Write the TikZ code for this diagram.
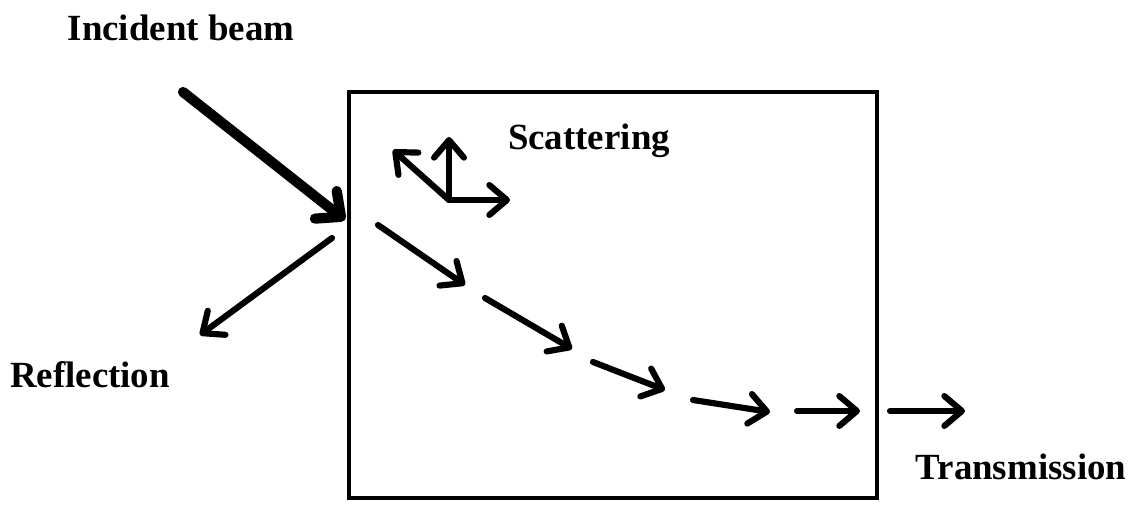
\documentclass[tikz,border=0pt]{standalone}
\usepackage{fontspec}
\setmainfont{Liberation Serif}
\usetikzlibrary{arrows.meta}
\begin{document}
\begin{tikzpicture}[x=0.02cm,y=-0.02cm,
  ray/.style={line width=3.5pt, line cap=round, -{Straight Barb[length=10pt,width=17pt,line cap=round,round]}},
  bigray/.style={line width=5.8pt, line cap=round, -{Straight Barb[length=11pt,width=20pt,line cap=round,round]}},
  lbl/.style={font=\fontsize{21}{25}\selectfont\bfseries, inner sep=0pt}]
\useasboundingbox (0,0) rectangle (1139,506);
\node[draw, line width=2.6pt, minimum width=10.56cm, minimum height=8.12cm, inner sep=0pt, outer sep=0pt] (box) at (613,295) {};
% coordinates
\coordinate (i0) at (183,92); \coordinate (i1) at (345,220);
\coordinate (r0) at (332,238); \coordinate (r1) at (200,335);
\coordinate (o) at (449,200); \coordinate (su) at (449,137);
\coordinate (sr) at (510,200); \coordinate (sd) at (393,150);
\coordinate (a0) at (378,225); \coordinate (a1) at (465,285);
\coordinate (b0) at (485,298); \coordinate (b1) at (572,349);
\coordinate (c0) at (593,362); \coordinate (c1) at (665,390);
\coordinate (d0) at (693,400); \coordinate (d1) at (770,412);
\coordinate (e0) at (797,411); \coordinate (e1) at (860,411);
\coordinate (f0) at (890,411); \coordinate (f1) at (965,411);
\draw[bigray] (i0) -- (i1);
\draw[ray] (r0) -- (r1);
\draw[ray] (o) -- (su);
\draw[ray] (o) -- (sr);
\draw[ray] (o) -- (sd);
\draw[ray] (a0) -- (a1);
\draw[ray] (b0) -- (b1);
\draw[ray] (c0) -- (c1);
\draw[ray] (d0) -- (d1);
\draw[ray] (e0) -- (e1);
\draw[ray] (f0) -- (f1);
\node[lbl] (inc) at (181,28) {Incident beam};
\node[lbl] (sc) at (589,141) {Scattering};
\node[lbl] (ref) at (90,375) {Reflection};
\node[lbl] (tr) at (1021,467) {Transmission};
\end{tikzpicture}
\end{document}
